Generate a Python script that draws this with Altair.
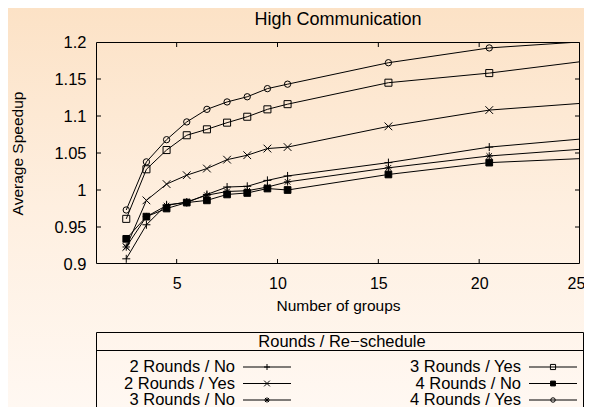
import altair as alt
import pandas as pd

# ---------------- data ----------------
chart_title = "High Communication"
x_groups = [2.5, 3.5, 4.5, 5.5, 6.5, 7.5, 8.5, 9.5, 10.5, 15.5, 20.5, 25.5]
series_names = ["2 Rounds / No", "2 Rounds / Yes", "3 Rounds / No",
                "3 Rounds / Yes", "4 Rounds / No", "4 Rounds / Yes"]
r2_no = [0.907, 0.953, 0.980, 0.983, 0.994, 1.004, 1.005, 1.013, 1.019, 1.037, 1.058, 1.070]
r2_yes = [0.923, 0.986, 1.008, 1.020, 1.029, 1.041, 1.047, 1.056, 1.058, 1.086, 1.108, 1.118]
r3_no = [0.923, 0.964, 0.979, 0.984, 0.993, 0.998, 0.999, 1.004, 1.011, 1.030, 1.046, 1.056]
r3_yes = [0.961, 1.028, 1.054, 1.074, 1.082, 1.091, 1.099, 1.109, 1.116, 1.145, 1.158, 1.175]
r4_no = [0.934, 0.964, 0.975, 0.983, 0.986, 0.994, 0.996, 1.002, 1.000, 1.021, 1.037, 1.043]
r4_yes = [0.973, 1.038, 1.068, 1.092, 1.109, 1.119, 1.126, 1.137, 1.143, 1.172, 1.192, 1.201]
series_values = [r2_no, r2_yes, r3_no, r3_yes, r4_no, r4_yes]

x_tick_labels = [5, 10, 15, 20, 25]
y_tick_labels = [0.9, 0.95, 1.0, 1.05, 1.1, 1.15, 1.2]
x_inner_ticks = [5, 10, 15, 20]
y_inner_ticks = [0.95, 1.0, 1.05, 1.1, 1.15]

legend_title = "Rounds / Re\u2212schedule"
legend_col = [0, 0, 0, 1, 1, 1]
legend_row = [0, 1, 2, 0, 1, 2]

# ---------------- tables ----------------
rows = []
for name, vals in zip(series_names, series_values):
    for xv, yv in zip(x_groups, vals):
        rows.append({"series": name, "groups": xv, "speedup": yv})
df = pd.DataFrame(rows)
xt_df = pd.DataFrame({"groups": x_inner_ticks})
yt_df = pd.DataFrame({"speedup": y_inner_ticks})
leg_df = pd.DataFrame({"series": series_names, "col": legend_col, "row": legend_row})
one = alt.Data(values=[{}])

# ---------------- style ----------------
W, H = 484, 222
FONT = "Liberation Sans"
paths = {
    "2 Rounds / No": "M-1,0H1M0,-1V1",
    "2 Rounds / Yes": "M-1,-1L1,1M-1,1L1,-1",
    "3 Rounds / No": "M-1,0H1M0,-1V1M-0.75,-0.75L0.75,0.75M-0.75,0.75L0.75,-0.75",
    "3 Rounds / Yes": "square",
    "4 Rounds / No": "square",
    "4 Rounds / Yes": "circle",
}
shape_range = [paths[s] for s in series_names]
size_plot = [64, 40, 64, 40, 44, 44]
size_leg = [36, 20, 36, 18, 26, 20]
fill_range = ["transparent", "transparent", "transparent", "transparent", "black", "transparent"]

xscale = alt.Scale(domain=[1, 25], nice=False, zero=False)
yscale = alt.Scale(domain=[0.9, 1.2], nice=False, zero=False)

xaxis = alt.Axis(values=x_tick_labels, ticks=False, domain=False, grid=False,
                 labelFont=FONT, labelFontSize=16, labelColor="black", labelPadding=11,
                 labelFlush=False, labelOverlap=False,
                 labelOffset={"condition": {"test": "datum.value >= 25", "value": -4}, "value": 0},
                 title="Number of groups", titleFont=FONT, titleFontSize=15.5,
                 titleFontWeight="normal", titleColor="black", titleX=242, titleY=34,
                 zindex=1)
yaxis = alt.Axis(values=y_tick_labels, format="~g", ticks=False, domain=False, grid=False,
                 labelFont=FONT, labelFontSize=16.5, labelColor="black", labelPadding=10,
                 labelFlush=False, labelOverlap=False,
                 title="Average Speedup", titleFont=FONT, titleFontSize=15.5,
                 titleFontWeight="normal", titleColor="black", titleX=-71, titleY=111,
                 zindex=1)
X = alt.X("groups:Q", scale=xscale, axis=xaxis)
Y = alt.Y("speedup:Q", scale=yscale, axis=yaxis)

grad = alt.LinearGradient(
    gradient="linear",
    stops=[alt.GradientStop(color="#FCE2C6", offset=0),
           alt.GradientStop(color="#FEEFE0", offset=0.5),
           alt.GradientStop(color="#FFF8F2", offset=1)],
    x1=0, x2=0, y1=0, y2=1)

bg = alt.Chart(one).mark_rect(fill=grad).encode(
    x=alt.value(-88), x2=alt.value(488), y=alt.value(-34), y2=alt.value(365))

title_mark = alt.Chart(one).mark_text(font=FONT, fontSize=18, color="black",
                                      align="center", baseline="alphabetic").encode(
    x=alt.value(W / 2), y=alt.value(-17.5), text=alt.value(chart_title))

bottom_ticks = alt.Chart(xt_df).mark_rule(color="black", strokeWidth=1).encode(
    x=X, y=alt.value(H), y2=alt.value(H - 5))
top_ticks = alt.Chart(xt_df).mark_rule(color="black", strokeWidth=1).encode(
    x=X, y=alt.value(0), y2=alt.value(5))
left_ticks = alt.Chart(yt_df).mark_rule(color="black", strokeWidth=1).encode(
    y=Y, x=alt.value(0), x2=alt.value(5))
right_ticks = alt.Chart(yt_df).mark_rule(color="black", strokeWidth=1).encode(
    y=Y, x=alt.value(W), x2=alt.value(W - 5))

lines = alt.Chart(df).mark_line(color="black", strokeWidth=1, clip=True).encode(
    x=X, y=Y, detail="series:N", order="groups:Q")

points = alt.Chart(df).transform_filter("datum.groups <= 25").mark_point(
    stroke="black", strokeWidth=1, opacity=1, clip=True).encode(
    x=X, y=Y,
    shape=alt.Shape("series:N", scale=alt.Scale(domain=series_names, range=shape_range), legend=None),
    size=alt.Size("series:N", scale=alt.Scale(domain=series_names, range=size_plot), legend=None),
    fill=alt.Fill("series:N", scale=alt.Scale(domain=series_names, range=fill_range), legend=None))

frame = alt.Chart(one).mark_rect(fill="transparent", stroke="black", strokeWidth=1).encode(
    x=alt.value(0.5), x2=alt.value(W - 0.5), y=alt.value(0.5), y2=alt.value(H - 0.5))

main = alt.layer(bg, title_mark, bottom_ticks, top_ticks, left_ticks, right_ticks,
                 lines, points, frame)

# ---------------- legend ----------------
LX = alt.X("col:Q", scale=alt.Scale(domain=[0, 1], range=[171, 457]), axis=None)
LY = alt.Y("row:Q", scale=alt.Scale(domain=[0, 2], range=[325, 358]), axis=None)

leg_box = alt.Chart(one).mark_rect(fill="transparent", stroke="black", strokeWidth=1).encode(
    x=alt.value(0.5), x2=alt.value(487.5), y=alt.value(290.5), y2=alt.value(420))
leg_sep = alt.Chart(one).mark_rule(color="black", strokeWidth=1).encode(
    x=alt.value(0.5), x2=alt.value(487.5), y=alt.value(308.5))
leg_title = alt.Chart(one).mark_text(font=FONT, fontSize=16.5, color="black",
                                     align="center", baseline="middle").encode(
    x=alt.value(246), y=alt.value(300), text=alt.value(legend_title))
leg_line = alt.Chart(leg_df).mark_point(shape="M-1,0H1", size=48 * 48, stroke="black",
                                        strokeWidth=1, opacity=1, fill="transparent").encode(
    x=LX, y=LY)
leg_mark = alt.Chart(leg_df).mark_point(stroke="black", strokeWidth=1, opacity=1).encode(
    x=LX, y=LY,
    shape=alt.Shape("series:N", scale=alt.Scale(domain=series_names, range=shape_range), legend=None),
    size=alt.Size("series:N", scale=alt.Scale(domain=series_names, range=size_leg), legend=None),
    fill=alt.Fill("series:N", scale=alt.Scale(domain=series_names, range=fill_range), legend=None))
leg_text = alt.Chart(leg_df).mark_text(font=FONT, fontSize=16.5, color="black",
                                       align="right", baseline="middle", dx=-32).encode(
    x=LX, y=LY, text="series:N")

legend = alt.layer(leg_box, leg_sep, leg_title, leg_line, leg_mark, leg_text)

chart = alt.layer(main, legend).resolve_scale(
    x="independent", y="independent", shape="independent", size="independent", fill="independent"
).properties(
    width=W, height=H,
    autosize=alt.AutoSizeParams(type="none"),
    padding={"left": 88, "top": 34, "right": 4, "bottom": 143},
).configure(background="#FDEEDD").configure_view(stroke=None)

chart.save("out.html", embed_options={"renderer": "svg", "actions": False})
